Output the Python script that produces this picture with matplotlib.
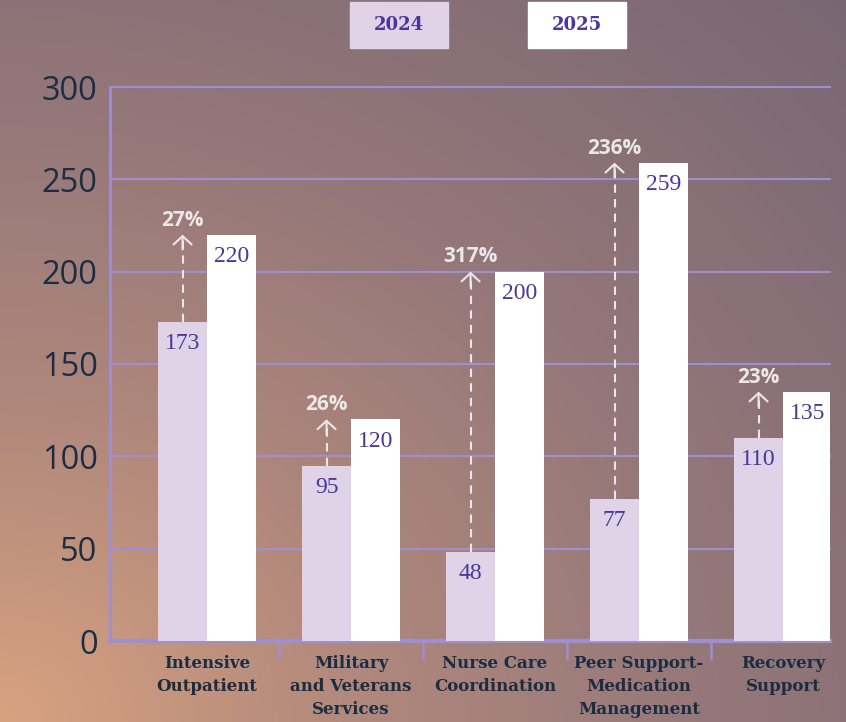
"""Program enrollment 2024 vs 2025, grouped bars with growth arrows."""

import numpy as np
import matplotlib
matplotlib.use("Agg")
import matplotlib.pyplot as plt
from matplotlib.patches import Rectangle

categories = [
    "Intensive\nOutpatient",
    "Military\nand Veterans\nServices",
    "Nurse Care\nCoordination",
    "Peer Support-\nMedication\nManagement",
    "Recovery\nSupport",
]
values_2024 = [173, 95, 48, 77, 110]
values_2025 = [220, 120, 200, 259, 135]
pct_labels = ["27%", "26%", "317%", "236%", "23%"]
y_ticks = [0, 50, 100, 150, 200, 250, 300]

C_2024 = "#e0d3e7"
C_2025 = "#ffffff"
C_GRID = "#9d8fd2"
C_NAVY = "#1b2d42"
C_PURPLE = "#4a3798"
C_PCT = "#ece8ea"

fig = plt.figure(figsize=(8.46, 7.22), dpi=100)

# background gradient, peach at bottom-left fading to grey-purple
bg = fig.add_axes([0, 0, 1, 1], zorder=-10)
h, w = 361, 423
yy, xx = np.mgrid[0:h, 0:w]
d = np.hypot(xx / w, (h - 1 - yy) / h) / np.sqrt(2)
stops = [0.0, 0.3, 0.6, 1.0]
cols = np.array([[0xd8, 0xa2, 0x80], [0xb0, 0x88, 0x7c],
                 [0x94, 0x77, 0x79], [0x78, 0x67, 0x73]]) / 255.0
img = np.stack([np.interp(d, stops, cols[:, k]) for k in range(3)], axis=-1)
bg.imshow(img, aspect="auto", extent=[0, 1, 0, 1])
bg.axis("off")

ax = fig.add_axes([110 / 846, 81 / 722, 720 / 846, 554 / 722])
ax.patch.set_alpha(0)

x = np.arange(len(categories))
bw = 0.34
ax.bar(x - bw / 2, values_2024, bw, color=C_2024, zorder=3)
ax.bar(x + bw / 2, values_2025, bw, color=C_2025, zorder=3)

for i in range(len(categories)):
    ax.annotate(str(values_2024[i]), (x[i] - bw / 2, values_2024[i]),
                xytext=(0, -8), textcoords="offset points", ha="center", va="top",
                fontsize=17, family="Liberation Serif", color=C_PURPLE, zorder=4)
    ax.annotate(str(values_2025[i]), (x[i] + bw / 2, values_2025[i]),
                xytext=(0, -8), textcoords="offset points", ha="center", va="top",
                fontsize=17, family="Liberation Serif", color=C_PURPLE, zorder=4)
    # dashed growth line and open arrow head
    ax.vlines(x[i] - bw / 2, values_2024[i], values_2025[i] - 2, colors=C_PCT,
              linestyles=(0, (4, 3)), linewidth=1.5, zorder=4)
    ax.annotate("", xy=(x[i] - bw / 2, values_2025[i]),
                xytext=(x[i] - bw / 2, values_2025[i] - 8),
                arrowprops=dict(arrowstyle="->,head_length=0.6,head_width=0.65",
                                color=C_PCT, lw=1.5, shrinkA=0, shrinkB=0), zorder=4)
    ax.annotate(pct_labels[i], (x[i] - bw / 2, values_2025[i]),
                xytext=(0, 3), textcoords="offset points", ha="center", va="bottom",
                fontsize=15, fontweight="bold", family="Open Sans", color=C_PCT, zorder=4)

ax.set_xlim(-0.674, 4.326)
ax.set_ylim(0, 300)
ax.set_yticks(y_ticks)
ax.set_yticklabels([str(t) for t in y_ticks], fontsize=23.5, family="Open Sans",
                   fontweight="medium", color=C_NAVY)
ax.tick_params(axis="y", length=0, pad=9)
ax.yaxis.grid(True, color=C_GRID, linewidth=1.5, zorder=1)
for gl in ax.get_ygridlines():
    gl.set_clip_on(False)
ax.set_axisbelow(True)

ax.set_xticks(x)
ax.set_xticklabels(categories, fontsize=12, family="DejaVu Serif", fontweight="heavy",
                   color=C_NAVY, linespacing=1.47)
ax.tick_params(axis="x", length=0, pad=10)
ax.set_xticks(x[:-1] + 0.5, minor=True)
ax.tick_params(axis="x", which="minor", length=14, width=1.8, color=C_GRID, direction="out")

for s in ["top", "right"]:
    ax.spines[s].set_visible(False)
ax.spines["left"].set_color(C_GRID)
ax.spines["left"].set_linewidth(2)
ax.spines["bottom"].set_color(C_GRID)
ax.spines["bottom"].set_linewidth(3)

# legend boxes at the top
for x0, col, lab in [(350, C_2024, "2024"), (528, C_2025, "2025")]:
    fig.patches.append(Rectangle((x0 / 846, 674 / 722), 98 / 846, 46 / 722,
                                 transform=fig.transFigure, color=col))
    fig.text((x0 + 49) / 846, 697 / 722, lab, ha="center", va="center",
             fontsize=13, fontweight="bold", family="DejaVu Serif", color=C_PURPLE)

fig.savefig("out.png", dpi=100)
